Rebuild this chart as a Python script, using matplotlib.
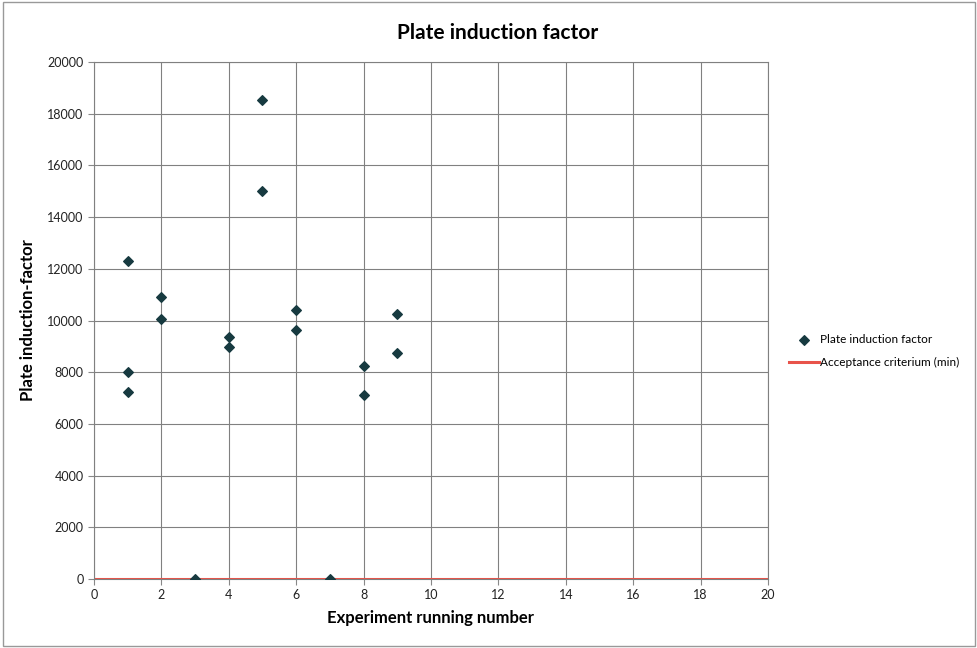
import matplotlib
matplotlib.use("Agg")
import matplotlib.pyplot as plt
from matplotlib.patches import Rectangle

plt.rcParams["font.family"] = ["Lato", "DejaVu Sans"]

# experiment running number vs plate induction factor
run_number = [1, 1, 1, 2, 2, 3, 4, 4, 5, 5, 6, 6, 7, 8, 8, 9, 9]
induction = [12300, 8010, 7250, 10900, 10060, 0, 9370, 8980, 18530, 15010,
             10400, 9640, 0, 8240, 7130, 10250, 8740]

criterium_x = [0, 20]
criterium_y = [0, 0]

fig = plt.figure(figsize=(9.78, 6.48), dpi=100)
ax = fig.add_axes([94 / 978, 1 - 579 / 648, (768 - 94) / 978, (579 - 62) / 648])

ax.plot(criterium_x, criterium_y, color="#e8534a", linewidth=2.2,
        label="Acceptance criterium (min)", zorder=2)
ax.scatter(run_number, induction, marker="D", s=24, color="#173a40",
           label="Plate induction factor", zorder=3)

ax.set_xlim(0, 20)
ax.set_ylim(0, 20000)
ax.set_xticks(range(0, 21, 2))
ax.set_yticks(range(0, 20001, 2000))
ax.tick_params(labelsize=9, length=4, color="#888888", colors="#222222")
ax.grid(True, color="#808080", linewidth=0.8)
ax.set_axisbelow(True)
for s in ax.spines.values():
    s.set_color("#808080")

# title is centred on the whole figure, not the axes
fig.text(0.509, 1 - 33 / 648, "Plate induction factor", fontsize=15,
         fontweight="bold", ha="center", va="center")
ax.set_xlabel("Experiment running number", fontsize=12, fontweight="bold", labelpad=6)
ax.set_ylabel("Plate induction-factor", fontsize=12, fontweight="bold", labelpad=8)

handles, labels = ax.get_legend_handles_labels()
fig.legend(handles[::-1], labels[::-1], loc="center left",
           bbox_to_anchor=(778 / 978, 1 - 351 / 648), frameon=False,
           fontsize=8.5, handlelength=2.6, handletextpad=0.1, labelspacing=1.0)

fig.patches.append(Rectangle((0.003, 0.003), 0.994, 0.994, transform=fig.transFigure,
                             fill=False, edgecolor="#999999", linewidth=1))

fig.savefig("out.png", dpi=100)
